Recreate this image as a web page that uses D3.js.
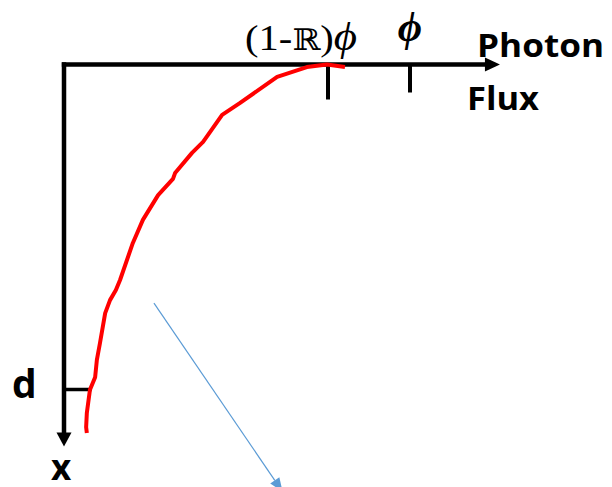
<!DOCTYPE html>
<html lang="en">
<head>
    <meta charset="UTF-8">
    <script src="https://cdn.jsdelivr.net/npm/d3@7"></script>
    <title>Photon Flux vs Depth</title>
    <style>
        body { margin: 0; background: #fff; }
        svg { display: block; }
        .sans { font-family: "Open Sans", Arial, sans-serif; font-weight: bold; fill: #000; }
        .serif { font-family: "Liberation Serif", "DejaVu Serif", serif; fill: #000; }
    </style>
</head>
<body>
    <div id="chart"></div>
    <script>
        // flux is in units of phi, depth in units of d
        const fluxTicks = [0.763, 1];
        const tickLen = [35, 28];
        const depthTicks = [1];
        const axisEnd = { flux: 1.26, depth: 1.175 };

        // red curve: photon flux against depth, read top to bottom
        const curveFlux = [0.812, 0.760, 0.702, 0.616, 0.509, 0.457, 0.402, 0.370, 0.321, 0.315, 0.272,
            0.228, 0.199, 0.162, 0.150, 0.133, 0.119, 0.104, 0.095, 0.090, 0.075, 0.066, 0.064, 0.066];
        const curveDepth = [0.008, 0.0, 0.008, 0.038, 0.118, 0.155, 0.238, 0.272, 0.334, 0.352, 0.402,
            0.478, 0.549, 0.663, 0.694, 0.725, 0.765, 0.857, 0.909, 0.962, 1.001, 1.072, 1.116, 1.134];

        // blue pointer arrow
        const pointerFlux = [0.260, 0.632];
        const pointerDepth = [0.734, 1.315];

        const width = 612, height = 487;
        const svg = d3.select("#chart").append("svg").attr("width", width).attr("height", height);

        const x = d3.scaleLinear().domain([0, 1]).range([64, 410]);
        const y = d3.scaleLinear().domain([0, 1]).range([64.5, 389.5]);

        // axes
        const ax = svg.append("g");
        ax.append("line")
            .attr("x1", x(0) - 2.2).attr("x2", x(axisEnd.flux) - 12)
            .attr("y1", y(0)).attr("y2", y(0))
            .attr("stroke", "#000").attr("stroke-width", 4.5);
        ax.append("path")
            .attr("d", `M${x(axisEnd.flux)},${y(0)} L${x(axisEnd.flux) - 15},${y(0) - 7} L${x(axisEnd.flux) - 15},${y(0) + 7} Z`)
            .attr("fill", "#000");
        ax.append("line")
            .attr("x1", x(0)).attr("x2", x(0))
            .attr("y1", y(0) - 2.2).attr("y2", y(axisEnd.depth) - 12)
            .attr("stroke", "#000").attr("stroke-width", 4.5);
        ax.append("path")
            .attr("d", `M${x(0)},${y(axisEnd.depth)} L${x(0) - 7.5},${y(axisEnd.depth) - 14} L${x(0) + 7.5},${y(axisEnd.depth) - 14} Z`)
            .attr("fill", "#000");

        ax.selectAll(".ftick").data(fluxTicks).enter().append("line")
            .attr("class", "ftick")
            .attr("x1", d => x(d)).attr("x2", d => x(d))
            .attr("y1", y(0)).attr("y2", (d, i) => y(0) + tickLen[i])
            .attr("stroke", "#000").attr("stroke-width", 4);

        ax.selectAll(".dtick").data(depthTicks).enter().append("line")
            .attr("class", "dtick")
            .attr("x1", x(0)).attr("x2", x(0.08))
            .attr("y1", d => y(d)).attr("y2", d => y(d))
            .attr("stroke", "#000").attr("stroke-width", 3.5);

        // red flux curve
        const pts = curveFlux.map((f, i) => [f, curveDepth[i]]);
        const line = d3.line().x(d => x(d[0])).y(d => y(d[1])).curve(d3.curveLinear);
        svg.append("path").datum(pts)
            .attr("d", line)
            .attr("fill", "none")
            .attr("stroke", "#ff0000")
            .attr("stroke-width", 4)
            .attr("stroke-linejoin", "round");

        // blue pointer
        const px1 = x(pointerFlux[0]), py1 = y(pointerDepth[0]);
        const px2 = x(pointerFlux[1]), py2 = y(pointerDepth[1]);
        const ang = Math.atan2(py2 - py1, px2 - px1);
        const hl = 14, hw = 5.5;
        const bx = px2 - hl * Math.cos(ang), by = py2 - hl * Math.sin(ang);
        svg.append("line")
            .attr("x1", px1).attr("y1", py1).attr("x2", bx).attr("y2", by)
            .attr("stroke", "#5b9bd5").attr("stroke-width", 1.2);
        svg.append("path")
            .attr("d", `M${px2},${py2} L${bx - hw * Math.sin(ang)},${by + hw * Math.cos(ang)} L${bx + hw * Math.sin(ang)},${by - hw * Math.cos(ang)} Z`)
            .attr("fill", "#5b9bd5");

        // labels
        svg.append("text").attr("class", "sans")
            .attr("x", 477).attr("y", 57).attr("font-size", 33)
            .attr("textLength", 127).attr("lengthAdjust", "spacingAndGlyphs")
            .text("Photon");
        svg.append("text").attr("class", "sans")
            .attr("x", 467).attr("y", 110).attr("font-size", 33)
            .attr("textLength", 72).attr("lengthAdjust", "spacingAndGlyphs")
            .text("Flux");
        svg.append("text").attr("class", "sans")
            .attr("x", 12).attr("y", 398).attr("font-size", 39)
            .text("d");
        svg.append("text").attr("class", "sans")
            .attr("x", 51).attr("y", 480).attr("font-size", 35)
            .text("x");

        const lbl = svg.append("text").attr("class", "serif")
            .attr("x", 245).attr("y", 50).attr("font-size", 36)
            .attr("textLength", 112).attr("lengthAdjust", "spacingAndGlyphs");
        lbl.append("tspan").text("(1-");
        lbl.append("tspan").attr("font-family", "DejaVu Serif").attr("font-size", 30).text("ℝ");
        lbl.append("tspan").text(")");
        lbl.append("tspan").attr("font-style", "italic").attr("font-size", 40).text("ϕ");

        svg.append("text").attr("class", "serif")
            .attr("x", x(fluxTicks[1])).attr("y", 41)
            .attr("text-anchor", "middle")
            .attr("font-size", 42).attr("font-weight", "bold").attr("font-style", "italic")
            .text("ϕ");
    </script>
</body>
</html>
